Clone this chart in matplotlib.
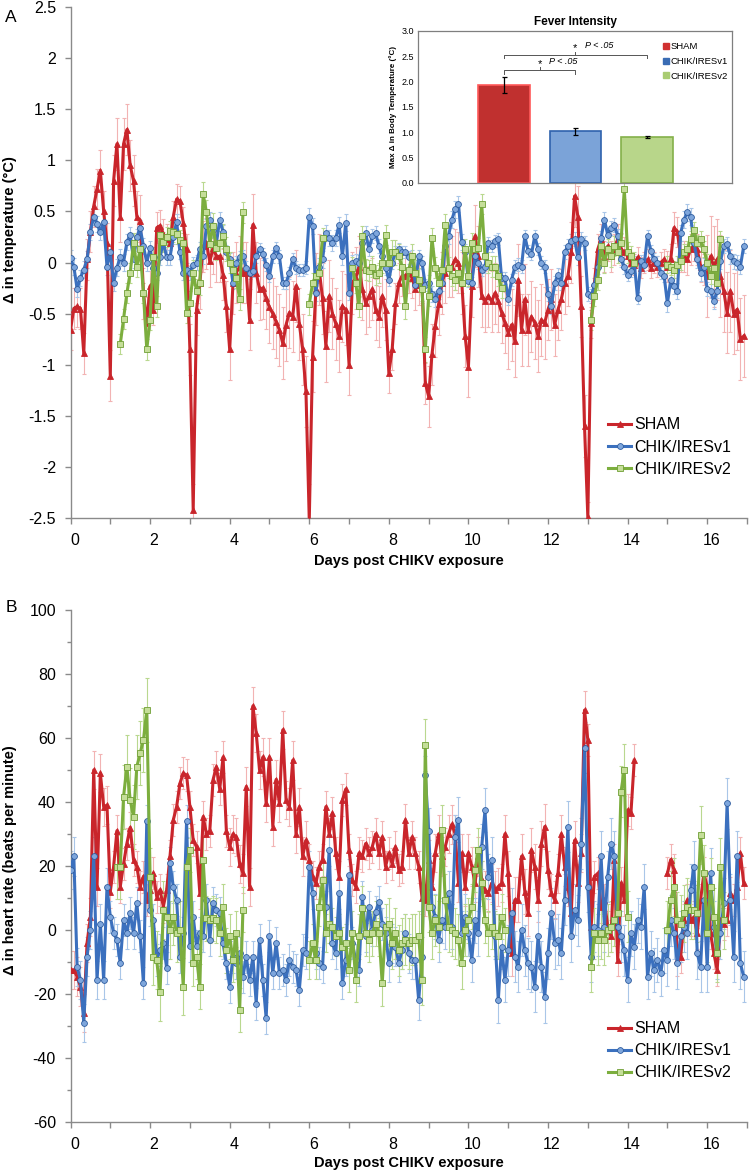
import numpy as np
import matplotlib
matplotlib.use('Agg')
import matplotlib.pyplot as plt
from matplotlib.lines import Line2D
from matplotlib.ticker import MultipleLocator, FuncFormatter
import matplotlib.transforms as mtransforms

plt.rcParams['font.family'] = ['Liberation Sans', 'DejaVu Sans']
plt.rcParams['axes.unicode_minus'] = False

nan = np.nan
PER_DAY = 12  # readings every 2 hours

# ---------------- Panel A: change in temperature (deg C) ----------------
temp_sham = [
    -0.66, -0.45, -0.43, -0.45, -0.89, 0.03, 0.3, 0.55, 0.72, 0.9, 0.5, 0.19,
    -1.11, 0.8, 1.16, 0.45, 1.16, 1.3, 0.95, 0.8, 0.45, 0.41, -0.3, -0.59,
    -0.23, -0.46, 0.34, 0.36, 0.28, 0.23, 0.19, 0.45, 0.62, 0.6, 0.39, 0.13,
    -0.85, -2.42, -0.46, -0.2, 0.16, 0.19, 0.01, 0.14, 0.06, 0.06, -0.12, -0.43,
    -0.85, -0.2, -0.1, -0.04, -0.1, -0.1, -0.56, 0.37, -0.1, -0.26, -0.25, -0.35,
    -0.44, -0.5, -0.58, -0.66, -0.79, -0.61, -0.49, -0.53, -0.23, -0.6, -0.85, -1.26,
    -2.52, -0.92, -0.26, -0.07, -0.35, -0.82, -0.33, -0.5, -0.6, -0.72, -0.43, -0.46,
    -1.0, -0.2, -0.15, -0.04, -0.26, -0.4, -0.33, -0.26, -0.46, -0.53, -0.33, -0.46,
    -1.08, -0.85, -0.4, -0.2, -0.13, -0.13, -0.1, -0.15, -0.26, -0.22, -0.2, -1.18,
    -1.31, -0.9, -0.62, -0.41, -0.2, -0.1, -0.04, -0.04, 0.03, 0.0, -0.2, -0.72,
    -1.02, -0.23, 0.26, 0.06, -0.33, -0.38, -0.33, -0.38, -0.3, -0.38, -0.49, -0.59,
    -0.69, -0.61, -0.77, -0.17, -0.66, -0.36, -0.66, -0.53, -0.59, -0.72, -0.56, -0.59,
    -0.46, -0.36, -0.61, -0.46, -0.36, -0.2, -0.13, 0.1, 0.65, 0.45, -0.43, -1.6,
    -2.49, -0.59, -0.2, 0.13, 0.23, 0.06, 0.16, 0.06, 0.13, 0.23, 0.13, 0.1,
    0.06, 0.0, -0.02, 0.05, -0.05, 0.0, 0.03, -0.05, 0.0, -0.04, 0.0, 0.03,
    -0.04, 0.03, 0.34, 0.3, 0.06, 0.06, 0.03, 0.13, 0.16, 0.13, -0.04, -0.07,
    -0.13, 0.06, -0.04, 0.03, -0.13, -0.28, -0.49, -0.28, -0.5, -0.46, -0.75, -0.72,
]
temp_v1 = [
    0.04, -0.04, -0.26, -0.15, -0.07, 0.03, 0.3, 0.45, 0.38, 0.3, 0.4, -0.04,
    0.1, -0.2, -0.05, 0.05, 0.0, 0.2, 0.27, 0.03, 0.25, 0.34, 0.16, 0.0,
    0.14, -0.05, -0.1, 0.05, 0.2, 0.05, 0.05, 0.25, 0.4, 0.1, -0.1, -0.07,
    -0.1, -0.02, 0.0, 0.13, 0.06, 0.36, 0.42, 0.32, 0.19, 0.42, 0.3, 0.1,
    0.03, -0.2, 0.0, 0.05, 0.06, -0.05, -0.1, -0.08, 0.06, 0.13, 0.08, -0.02,
    -0.13, 0.06, 0.14, 0.06, -0.2, -0.2, -0.1, 0.03, -0.05, -0.07, -0.07, -0.05,
    0.45, 0.36, -0.3, -0.04, 0.03, 0.29, 0.24, 0.19, 0.24, 0.37, 0.06, 0.39,
    -0.3, 0.0, 0.01, 0.0, 0.19, 0.29, 0.13, 0.26, 0.29, 0.16, 0.06, -0.05,
    -0.17, 0.0, 0.1, 0.13, 0.1, 0.1, 0.05, 0.06, -0.22, 0.06, 0.0, -0.22,
    -0.2, -0.31, -0.36, -0.28, -0.2, 0.16, 0.26, 0.42, 0.52, 0.57, 0.2, 0.1,
    -0.18, -0.2, 0.06, 0.0, -0.07, -0.04, 0.19, 0.16, 0.21, 0.23, -0.15, -0.15,
    -0.36, -0.17, -0.04, -0.02, -0.04, 0.26, 0.11, 0.08, 0.26, 0.13, 0.0, -0.04,
    -0.31, -0.43, -0.2, -0.12, -0.2, 0.1, 0.16, 0.21, 0.23, 0.05, 0.23, 0.19,
    -0.31, -0.33, -0.22, -0.04, 0.24, 0.42, 0.27, 0.34, 0.37, 0.26, 0.03, -0.04,
    -0.12, -0.08, 0.0, -0.35, 0.01, -0.02, 0.26, 0.11, 0.03, 0.0, -0.1, -0.13,
    -0.4, -0.17, -0.23, -0.28, 0.29, 0.42, 0.49, 0.45, 0.19, 0.03, -0.1, -0.04,
    -0.26, -0.28, -0.38, -0.28, 0.01, 0.16, 0.18, 0.06, 0.01, 0.0, -0.04, 0.16,
]
temp_v2 = [
    nan, nan, nan, nan, nan, nan, nan, nan, nan, nan, nan, nan,
    nan, nan, nan, -0.8, -0.55, -0.3, -0.1, 0.19, -0.04, 0.13, -0.3, -0.85,
    -0.56, 0.05, -0.43, 0.27, 0.2, 0.25, 0.31, 0.3, 0.28, 0.22, 0.19, -0.49,
    -0.4, -0.1, -0.28, -0.2, 0.67, 0.49, 0.18, 0.36, 0.14, 0.19, 0.26, 0.13,
    0.0, -0.07, -0.15, -0.36, 0.49, nan, nan, nan, nan, nan, nan, nan,
    nan, nan, nan, nan, nan, nan, nan, nan, nan, nan, nan, nan,
    -0.41, -0.2, -0.13, -0.1, 0.24, nan, nan, nan, nan, nan, nan, nan,
    nan, -0.05, -0.2, -0.43, 0.26, -0.07, -0.08, -0.04, -0.12, -0.1, 0.0, 0.27,
    0.0, 0.1, 0.1, 0.06, -0.04, -0.43, -0.07, 0.06, -0.1, -0.17, -0.26, -0.85,
    -0.33, 0.24, -0.05, -0.2, -0.07, 0.37, -0.05, -0.13, -0.17, -0.1, -0.2, 0.13,
    -0.13, 0.19, 0.13, 0.14, 0.57, 0.06, 0.0, -0.04, -0.04, -0.13, -0.25, nan,
    nan, nan, nan, nan, nan, nan, nan, nan, nan, nan, nan, nan,
    nan, nan, nan, nan, nan, nan, nan, nan, nan, nan, nan, nan,
    nan, -0.56, -0.33, -0.17, 0.16, 0.0, 0.13, 0.06, 0.16, 0.1, 0.19, 0.72,
    0.1, 0.06, 0.0, nan, nan, nan, nan, nan, nan, nan, nan, nan,
    -0.02, -0.04, -0.07, -0.02, 0.01, 0.1, 0.13, 0.23, 0.32, 0.19, 0.23, 0.13,
    0.0, -0.13, -0.05, -0.2, 0.23, nan, nan, nan, nan, nan, nan, nan,
]
# error bar size (SEM) read per day
temp_err_sham = [0.2, 0.25, 0.15, 0.25, 0.3, 0.35, 0.35, 0.3, 0.2, 0.3, 0.3, 0.35, 0.3, 0.15, 0.1, 0.15, 0.4]
temp_err_v1 = [0.08, 0.08, 0.07, 0.07, 0.06, 0.06, 0.08, 0.07, 0.06, 0.08, 0.06, 0.06, 0.07, 0.07, 0.06, 0.08, 0.07]
temp_err_v2 = [0.1, 0.1, 0.1, 0.12, 0.1, 0.1, 0.1, 0.1, 0.12, 0.1, 0.1, 0.1, 0.1, 0.1, 0.1, 0.08, 0.08]

# ---------------- Panel B: change in heart rate (bpm) ----------------
hr_sham = [
    -12.5, -12.5, -14.6, -17.7, -26, -4, 4, 50, 13.5, 49, 38.5, 39,
    12, 19.8, 31, 13.5, 20.6, 27, 32, 22, 19.8, 13.5, 16.7, 9.4,
    12.5, 17.7, 10.4, 12.5, 7.3, 12.5, 23, 34.4, 38.5, 45.8, 49, 48.4,
    38.5, 28, 26, 11.5, 35.4, 30, 31, 47, 51, 44, 54, 31,
    26, 30, 29, 20.6, 17.7, 44.8, 13.5, 70, 61.5, 50, 54, 39.6,
    54, 32.3, 47, 39.6, 62.5, 40.6, 38.5, 53, 30, 38.5, 23, 28,
    22, 16.7, 14.6, 19.8, 22, 38.5, 30, 36.5, 24, 16.7, 40.6, 44,
    25, 15.6, 13.5, 24, 23, 27, 24, 26, 30, 24, 29, 19.8,
    24, 20.6, 26, 18.7, 19.8, 34.4, 24, 29, 24, 19.8, 10, 9.4,
    22, 13.5, 24, 30, 23, 26, 30, 33, 30, 14.6, 24, 13.5,
    24, 19.8, 14.6, 23, 15.6, 12.5, 11.5, 14.6, 12.5, 13.5, 14.6, 30,
    17.7, -7.3, 9.4, 9.4, 23, 12, 5.2, 25, 19.8, 9.4, 27, 32.3,
    18.7, 11.5, 9.4, 17.7, 30, 19.8, 13.5, 5.2, 28, 14.6, 24, 68.7,
    59.4, 1, 16.7, 17.7, 7.3, 9.4, 1, -2, 22, -9.4, 14.6, 9.4,
    37.5, 36.5, 53, nan, nan, nan, nan, nan, nan, nan, nan, nan,
    17.7, 22, 18.7, -9.4, -8.3, 3, 9.4, 3, 4, -1, 9.4, 17.7,
    13.5, -1, -7.3, -12.5, 3, 2, 3, 11.5, 9.4, 13.5, 24, 14.6,
]
hr_v1 = [
    18.8, 23, -11.5, -15.6, -29, -8.3, 0, 23, -15.6, 2, -15.6, 13.5,
    4.2, -1, -3, -10.4, 3, -1, 5.2, -1, 8.3, -2, -16.7, 34,
    6.3, 3, -9.4, -6.3, -4.2, -12, 20.8, 13.5, 9.4, -8.3, -1, 34,
    -5, 4.2, -5, -1, -2, 9.4, -3, 8.3, 6.3, 5.2, -4.2, -10.4,
    -17.7, -8.3, -10.4, -7.3, -14.6, -8.3, -15.6, -8.3, -23, -3, -15.6, -27.6,
    -2, -13.5, -4, -13.5, -12.5, -15.6, -9.4, -11.5, -12.5, -18.8, -6.3, -7.3,
    19.8, 11.5, -7.3, -10.4, -11.5, 7.3, 25, -4.2, -7.3, 11.5, -16.7, -9.4,
    17.2, -4.2, -9.4, -12.5, 10.4, -2, 7.3, 0, 5.7, 8.8, 2, -1,
    -10.4, -4.2, -5.2, -10.4, -6.3, -1, -7.3, -9.4, -9.4, -22, -8.3, 48.4,
    31, 7.3, 4.2, -3, 3, 1, 11.5, 1, 29, 34.4, -1, 4.2,
    -1, -9.4, 3, -1, 26, 37.5, 16.7, 22, -2, -22, -5.2, -15.6,
    -6.3, 5.2, -8.3, -11.5, 0, -6.3, -10.4, -11.5, -17.7, -2, -11.5, -21,
    -7.3, 5.2, -4.2, -3, -7.3, 9.4, 32.3, -2, 6.3, 3, 27, 57,
    13.5, -8.3, 1, 0, 23, 1, 16.7, 27, 23, 1, -2, -6.3,
    -15.6, -1, -5.2, 3, 1, 13.5, -14.6, -7.3, -12.5, -9.4, -13.5, -6.3,
    -9.4, 3, -1, -10.4, -2, 1, -1, 12.5, 19.8, -7.3, -11.5, 9.4,
    -11.5, 17.7, 1, -7.3, -1, 8.3, 39.6, 9.4, -8.3, 23, -10.4, -14.6,
]
hr_v2 = [
    nan, nan, nan, nan, nan, nan, nan, nan, nan, nan, nan, nan,
    nan, nan, 19.8, 19.8, 41.7, 51, 40.6, 35.4, 51, 55.2, 59.4, 68.7,
    16.7, -8.3, -9.4, -19.3, 6.3, 4.2, 0, 4.2, -1, 0, -17.7, 19.8,
    25, -10.4, -8.3, -17.7, 22, 3.6, 3, 3.6, 3, -1, 7.3, -6.3,
    -2, -9.4, -1, -25, 6.3, nan, nan, nan, nan, nan, nan, nan,
    nan, nan, nan, nan, nan, nan, nan, nan, nan, nan, nan, nan,
    -9.4, -4.2, -9.4, 7.3, 15.6, -1, 2, 1, -2, -1, -5.2, -4.2,
    -12.5, -1, -15.6, -2, 6.8, -1, -3, -1, 2, -1, -16.7, 1,
    2, -4.2, -1, -6.3, -4.2, -3, -4.2, -3, -3, -2, -15.6, 57.8,
    7.3, -1, 3, 1, 31.2, 9.4, 1, 0, -1, -3, -10.4, 0,
    3, 7.3, 18.8, 25, 14.6, 3, -1, 1, -1, -2, 4.2, 0,
    nan, nan, nan, nan, nan, nan, nan, nan, nan, nan, nan, nan,
    nan, nan, nan, nan, nan, nan, nan, nan, nan, nan, nan, nan,
    nan, -11.5, -1, -3, -1, -3, 0, 1, 3, 5.2, 43.2, 50,
    4.2, nan, nan, nan, nan, nan, nan, nan, nan, nan, nan, nan,
    0, 9.4, 13.5, 3, 2, 5.2, 7.3, 6.3, 6.3, 5.2, 29.7, 17.7,
    -1, 13.5, 4.2, -7.3, 19.8, 3, nan, nan, nan, nan, nan, nan,
]
hr_err_sham = [6, 5, 5, 5, 6, 6, 5, 5, 5, 6, 6, 7, 6, 5, 5, 5, 5]
hr_err_v1 = [6, 5, 5, 5, 5, 5, 5, 5, 6, 7, 7, 8, 8, 8, 7, 8, 8]
hr_err_v2 = [8, 10, 9, 7, 7, 6, 6, 7, 8, 8, 7, 7, 7, 8, 8, 9, 9]

# ---------------- Inset: fever intensity ----------------
groups = ['SHAM', 'CHIK/IRESv1', 'CHIK/IRESv2']
fever_max = [1.93, 1.02, 0.90]
fever_err = [0.16, 0.075, 0.02]

# ---------------- styles ----------------
styles = {
    'SHAM': dict(color='#c9252b', marker='^', mfc='#c9252b', mec='#c9252b', ecolor='#f2b3b3'),
    'CHIK/IRESv1': dict(color='#3b70be', marker='o', mfc='#7ea6dc', mec='#2e5c9e', ecolor='#a9c6e8'),
    'CHIK/IRESv2': dict(color='#7cae3e', marker='s', mfc='#c5de99', mec='#6f9f35', ecolor='#b9d88f'),
}
bar_fill = ['#c0302f', '#7ba3d8', '#b8d68a']
bar_edge = ['#ff5a5a', '#2f62ad', '#84b04a']
SPINE = '#8a8a8a'

fig = plt.figure(figsize=(7.5, 11.73), dpi=100)
axA = fig.add_axes([0.094, 0.5584, 0.902, 0.4356])
axB = fig.add_axes([0.094, 0.0435, 0.902, 0.4365])


def draw_series(ax, vals, err_day, name):
    y = np.array(vals, dtype=float)
    t = np.arange(len(y)) / PER_DAY
    e = np.repeat(np.array(err_day, dtype=float), PER_DAY)[:len(y)]
    st = styles[name]
    ax.errorbar(t, y, yerr=e, fmt='none', ecolor=st['ecolor'], elinewidth=0.8,
                capsize=1.6, capthick=0.8, zorder=2)
    ax.plot(t, y, color=st['color'], lw=2.2, marker=st['marker'], ms=4.2,
            mfc=st['mfc'], mec=st['mec'], mew=0.6, zorder=3, label=name)


for ax, data in ((axA, [(temp_sham, temp_err_sham, 'SHAM'), (temp_v1, temp_err_v1, 'CHIK/IRESv1'),
                        (temp_v2, temp_err_v2, 'CHIK/IRESv2')]),
                 (axB, [(hr_sham, hr_err_sham, 'SHAM'), (hr_v1, hr_err_v1, 'CHIK/IRESv1'),
                        (hr_v2, hr_err_v2, 'CHIK/IRESv2')])):
    for vals, err, name in data:
        draw_series(ax, vals, err, name)
    ax.set_xlim(0, 17)
    ax.xaxis.set_major_locator(MultipleLocator(2))
    ax.xaxis.set_minor_locator(MultipleLocator(1))
    for s in ('top', 'right'):
        ax.spines[s].set_visible(False)
    for s in ('left', 'bottom'):
        ax.spines[s].set_color(SPINE)
        ax.spines[s].set_linewidth(1.0)
    ax.tick_params(which='both', direction='out', color=SPINE, width=1.0)
    ax.tick_params(which='major', length=4.5, labelsize=11.5, pad=6)
    ax.tick_params(which='minor', length=4.5)
    ax.tick_params(axis='y', which='minor', length=3)
    fmt = FuncFormatter(lambda v, p: ('%g' % round(v, 2)))
    ax.yaxis.set_major_formatter(fmt)
    offset = mtransforms.ScaledTranslation(4 / 100, 0, fig.dpi_scale_trans)
    for lab in ax.get_xticklabels():
        lab.set_transform(lab.get_transform() + offset)
    leg = ax.legend(loc='upper left', bbox_to_anchor=(0.795, 0.197), frameon=False,
                    fontsize=11.5, handlelength=1.45, handletextpad=0.15,
                    labelspacing=0.45, borderpad=0, borderaxespad=0)

axA.set_ylim(-2.5, 2.5)
axA.yaxis.set_major_locator(MultipleLocator(0.5))
axB.set_ylim(-60, 100)
axB.yaxis.set_major_locator(MultipleLocator(20))
axB.yaxis.set_minor_locator(MultipleLocator(10))

# titles / labels as figure text
fig.text(409 / 750, 1 - 561 / 1173, 'Days post CHIKV exposure', ha='center', va='center',
         fontsize=10.5, fontweight='bold')
fig.text(409 / 750, 1 - 1163 / 1173, 'Days post CHIKV exposure', ha='center', va='center',
         fontsize=10.5, fontweight='bold')
fig.text(10 / 750, 1 - 230 / 1173, '\u0394 in temperature (\u00b0C)', ha='center', va='center',
         rotation=90, fontsize=10.5, fontweight='bold')
fig.text(10 / 750, 1 - 860 / 1173, '\u0394 in heart rate (beats per minute)', ha='center',
         va='center', rotation=90, fontsize=10.5, fontweight='bold')
fig.text(11 / 750, 1 - 18 / 1173, 'A', ha='center', va='center', fontsize=12.5)
fig.text(11 / 750, 1 - 607 / 1173, 'B', ha='center', va='center', fontsize=12.5)

# ---------------- inset ----------------
axI = fig.add_axes([0.5573, 0.844, 0.4187, 0.1296], zorder=5)
axI.set_facecolor('white')
pos = np.arange(len(groups))
axI.bar(pos, fever_max, width=0.72, color=bar_fill, edgecolor=bar_edge, linewidth=1.2, zorder=2)
axI.errorbar(pos, fever_max, yerr=fever_err, fmt='none', ecolor='black', elinewidth=0.9,
             capsize=1.8, capthick=0.9, zorder=3)
axI.set_xlim(-1.2, 3.19)
axI.set_ylim(0, 3.0)
axI.set_xticks([])
axI.yaxis.set_major_locator(MultipleLocator(0.5))
axI.yaxis.set_major_formatter(FuncFormatter(lambda v, p: '%.1f' % v))
axI.tick_params(axis='y', length=0, labelsize=6.5, pad=3)
for s in axI.spines.values():
    s.set_color('#7f7f7f')
    s.set_linewidth(0.9)
axI.set_title('Fever Intensity', fontsize=8.5, fontweight='bold', pad=4)
axI.set_ylabel('Max \u0394 in Body Temperature (\u00b0C)', fontsize=5.8, fontweight='bold', labelpad=3)

# significance brackets
BR = '#555555'
for (x0, x1, yb, ys) in ((0, 1, 2.23, 2.39), (0, 2, 2.53, 2.72)):
    axI.plot([x0, x0, x1, x1], [yb - 0.07, yb, yb, yb - 0.07], color=BR, lw=0.7, zorder=4)
    xm = (x0 + x1) / 2
    axI.plot([xm, xm], [yb, yb + 0.05], color=BR, lw=0.7, zorder=4)
    axI.text(xm, ys - 0.05, '*', ha='center', va='center', fontsize=8, zorder=4)
    axI.text(xm + 0.13, ys, 'P < .05', ha='left', va='center', fontsize=6.5,
             style='italic', zorder=4)

inset_handles = [Line2D([], [], ls='none', marker='s', ms=4.5, mfc=c, mec=c) for c in ['#d03030', '#3a6cb4', '#a9cc72']]
axI.legend(inset_handles, groups, loc='upper right', bbox_to_anchor=(1.0, 0.95), frameon=False,
           fontsize=6.8, handlelength=0.6, handletextpad=0.2, labelspacing=0.6,
           borderpad=0, borderaxespad=0.4)

fig.savefig('out.png', dpi=100)
